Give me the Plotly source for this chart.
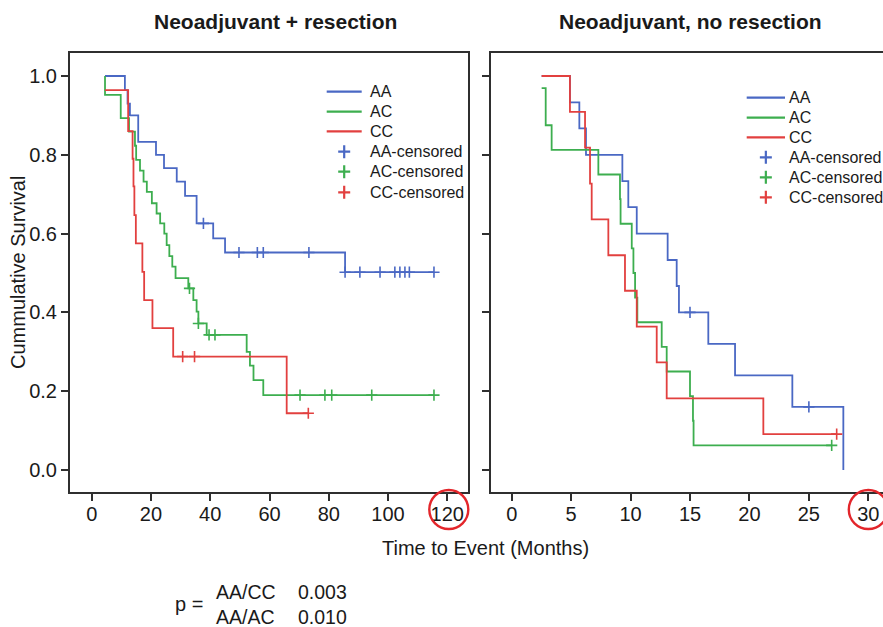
import plotly.graph_objects as go

# ---------------- data ----------------
# Left panel: Neoadjuvant + resection
aa_res_t = [4.49, 11.2, 12.1, 12.9, 15.7, 21.7, 24.4, 28.7, 31.5, 35.4, 41.0, 45.0, 85.5, 115.5]
aa_res_s = [1.0, 0.964, 0.930, 0.900, 0.833, 0.800, 0.766, 0.732, 0.696, 0.626, 0.588, 0.552, 0.502, 0.502]
aa_res_ct = [37.7, 49.7, 55.9, 57.9, 73.3, 85.5, 90.5, 97.3, 102.3, 104.0, 105.7, 107.2, 115.5]
aa_res_cs = [0.626, 0.552, 0.552, 0.552, 0.552, 0.502, 0.502, 0.502, 0.502, 0.502, 0.502, 0.502, 0.502]

ac_res_t = [4.49, 4.49, 9.8, 12.6, 14.6, 15.0, 16.3, 17.5, 18.6, 20.3, 21.9, 23.1, 24.5, 25.3, 26.2,
            27.2, 28.3, 32.6, 34.3, 35.4, 36.0, 38.8, 52.3, 53.4, 54.6, 57.9, 115.5]
ac_res_s = [1.0, 0.952, 0.893, 0.859, 0.823, 0.787, 0.760, 0.732, 0.706, 0.677, 0.651, 0.626, 0.600, 0.571, 0.543,
            0.516, 0.487, 0.461, 0.431, 0.402, 0.372, 0.343, 0.300, 0.265, 0.228, 0.190, 0.190]
ac_res_ct = [33.0, 36.0, 39.6, 41.6, 70.3, 78.7, 81.0, 94.5, 115.5]
ac_res_cs = [0.461, 0.372, 0.343, 0.343, 0.190, 0.190, 0.190, 0.190, 0.190]

cc_res_t = [4.49, 12.3, 13.8, 14.1, 14.4, 14.9, 17.1, 17.7, 20.5, 27.5, 65.8, 73.1]
cc_res_s = [0.964, 0.860, 0.790, 0.720, 0.647, 0.575, 0.503, 0.431, 0.360, 0.288, 0.144, 0.144]
cc_res_ct = [30.7, 34.7, 73.1]
cc_res_cs = [0.288, 0.288, 0.144]

# Right panel: Neoadjuvant, no resection
aa_nr_t = [2.52, 4.90, 5.69, 6.25, 9.31, 9.81, 10.52, 13.12, 13.88, 14.07, 16.54, 18.79, 23.61, 27.9]
aa_nr_s = [1.0, 0.933, 0.867, 0.800, 0.733, 0.667, 0.600, 0.533, 0.467, 0.400, 0.320, 0.240, 0.160, 0.0]
aa_nr_ct = [15.0, 25.0]
aa_nr_cs = [0.400, 0.160]

ac_nr_t = [2.52, 2.86, 3.36, 7.29, 9.11, 9.16, 10.10, 10.24, 10.38, 10.57, 12.62, 13.04, 15.0, 15.25, 15.3, 26.92]
ac_nr_s = [0.969, 0.875, 0.8125, 0.750, 0.6875, 0.625, 0.5625, 0.500, 0.4375, 0.375, 0.3125, 0.250, 0.1875, 0.125, 0.0625, 0.0625]
ac_nr_ct = [26.92]
ac_nr_cs = [0.0625]

cc_nr_t = [2.52, 4.90, 6.17, 6.59, 6.73, 8.13, 9.53, 10.52, 12.20, 13.04, 21.17, 27.34]
cc_nr_s = [1.0, 0.909, 0.818, 0.727, 0.636, 0.545, 0.455, 0.364, 0.273, 0.182, 0.091, 0.091]
cc_nr_ct = [27.34]
cc_nr_cs = [0.091]

group_names = ["AA", "AC", "CC"]
left_ticks = [0, 20, 40, 60, 80, 100, 120]
right_ticks = [0, 5, 10, 15, 20, 25, 30]
y_ticks = [0.0, 0.2, 0.4, 0.6, 0.8, 1.0]
panel_titles = ["Neoadjuvant + resection", "Neoadjuvant, no resection"]
x_title = "Time to Event (Months)"
y_title = "Cummulative Survival"
p_rows = [("AA/CC", "0.003"), ("AA/AC", "0.010")]

# ---------------- style / geometry ----------------
W, H = 883, 627
ML, MR, MT, MB = 70, 0, 53, 135
PW, PH = W - ML - MR, H - MT - MB
FONT = "Liberation Sans, Arial, Helvetica, sans-serif"
COLORS = {"AA": "#4a68c4", "AC": "#3dae4f", "CC": "#e2403f"}
AXC = "#2f2f2f"
TXT = "#1a1a1a"


def px(xp):
    return (xp - ML) / PW


def py(yp):
    return (H - MB - yp) / PH


fig = go.Figure()

panels = [
    ("x", "y", [(aa_res_t, aa_res_s, aa_res_ct, aa_res_cs),
                (ac_res_t, ac_res_s, ac_res_ct, ac_res_cs),
                (cc_res_t, cc_res_s, cc_res_ct, cc_res_cs)]),
    ("x2", "y2", [(aa_nr_t, aa_nr_s, aa_nr_ct, aa_nr_cs),
                  (ac_nr_t, ac_nr_s, ac_nr_ct, ac_nr_cs),
                  (cc_nr_t, cc_nr_s, cc_nr_ct, cc_nr_cs)]),
]

for xa, ya, series in panels:
    for name, (t, s, ct, cs) in zip(group_names, series):
        fig.add_trace(go.Scatter(x=t, y=s, mode="lines", line=dict(color=COLORS[name], width=1.8, shape="hv"),
                                 name=name, xaxis=xa, yaxis=ya, showlegend=False, hoverinfo="skip"))
    for name, (t, s, ct, cs) in zip(group_names, series):
        fig.add_trace(go.Scatter(x=ct, y=cs, mode="markers",
                                 marker=dict(symbol="cross-thin", size=8, color=COLORS[name],
                                             line=dict(color=COLORS[name], width=1.6)),
                                 name=name + "-censored", xaxis=xa, yaxis=ya, showlegend=False,
                                 hoverinfo="skip"))

# axis ranges from pixel calibration
left_dom = [0, px(467.5)]
right_dom = [px(490.5), 1]
lx_per = (447.3 - 91.7) / 120.0
rx_per = (868.3 - 511.7) / 30.0
left_range = [(70 - 91.7) / lx_per, (467.5 - 91.7) / lx_per]
right_range = [(490.5 - 511.7) / rx_per, (W - 511.7) / rx_per]
ypp = (470 - 76) / 1.0
y_range = [-(H - MB - 470) / ypp, 1 + (76 - MT) / ypp]

common_x = dict(showline=True, linecolor=AXC, linewidth=2, mirror=True, ticks="outside", ticklen=7,
                tickwidth=2, tickcolor=AXC, showgrid=False, zeroline=False, ticklabelstandoff=-4,
                tickfont=dict(family=FONT, size=20, color=TXT))
common_y = dict(showline=True, linecolor=AXC, linewidth=2, ticks="outside", ticklen=7, tickwidth=2,
                tickcolor=AXC, showgrid=False, zeroline=False, range=y_range, tickvals=y_ticks,
                tickfont=dict(family=FONT, size=20, color=TXT))

fig.update_layout(
    width=W, height=H,
    margin=dict(l=ML, r=MR, t=MT, b=MB, pad=0),
    paper_bgcolor="white", plot_bgcolor="white",
    xaxis=dict(domain=left_dom, range=left_range, tickvals=left_ticks, anchor="y", **common_x),
    xaxis2=dict(domain=right_dom, range=right_range, tickvals=right_ticks, anchor="y2", **common_x),
    yaxis=dict(domain=[0, 1], anchor="x", mirror=True, ticktext=["%.1f" % v for v in y_ticks], **common_y),
    yaxis2=dict(domain=[0, 1], anchor="x2", mirror=False, showticklabels=False, **common_y),
    showlegend=False,
)

annots = []
shapes = []


def add_text(text, xp, yp, size=20, anchor="left", angle=0):
    annots.append(dict(text=text, x=px(xp), y=py(yp), xref="paper", yref="paper", showarrow=False,
                       xanchor=anchor, yanchor="middle", textangle=angle,
                       font=dict(family=FONT, size=size, color=TXT)))


add_text("<b>%s</b>" % panel_titles[0], 275.5, 22, size=21, anchor="center")
add_text("<b>%s</b>" % panel_titles[1], 690, 22, size=21, anchor="center")
add_text(x_title, 485, 548, anchor="center")
add_text(y_title, 18, 273, anchor="center", angle=-90)
add_text("p =", 173, 604)
for i, (lab, val) in enumerate(p_rows):
    yy = 592 + 25 * i
    add_text(lab, 214, yy, size=19.5)
    add_text(val, 296, yy, size=19.5)

# legends (one per panel): line keys for groups, "+" keys for censored marks
legend_layout = [
    dict(x0=326.7, x1=361.7, tx=368.3, rows=[91.7, 111.7, 131.3, 151.7, 171.7, 192.3]),
    dict(x0=746.7, x1=785.0, tx=786.7, rows=[97.7, 117.7, 137.3, 157.3, 177.3, 197.3]),
]
for lay in legend_layout:
    rows = lay["rows"]
    for i, name in enumerate(group_names):
        yy = rows[i]
        shapes.append(dict(type="line", xref="paper", yref="paper", x0=px(lay["x0"]), x1=px(lay["x1"]),
                           y0=py(yy), y1=py(yy), line=dict(color=COLORS[name], width=2.2)))
        add_text(name, lay["tx"], yy, size=16)
    for i, name in enumerate(group_names):
        yy = rows[3 + i]
        cx = (lay["x0"] + lay["x1"]) / 2
        path = "M %f,%f L %f,%f M %f,%f L %f,%f" % (
            px(cx - 6), py(yy), px(cx + 6), py(yy), px(cx), py(yy - 6.5), px(cx), py(yy + 6.5))
        shapes.append(dict(type="path", xref="paper", yref="paper", path=path,
                           line=dict(color=COLORS[name], width=2.2)))
        add_text(name + "-censored", lay["tx"], yy, size=16)

# red circles highlighting the last tick labels
for cx, cy in [(448.8, 509.5), (868.3, 509.5)]:
    r = 19.5
    shapes.append(dict(type="circle", xref="paper", yref="paper", x0=px(cx - r), x1=px(cx + r),
                       y0=py(cy + r), y1=py(cy - r), line=dict(color="#e3262b", width=2.4)))

fig.update_layout(annotations=annots, shapes=shapes)
fig.write_html("out.html")
